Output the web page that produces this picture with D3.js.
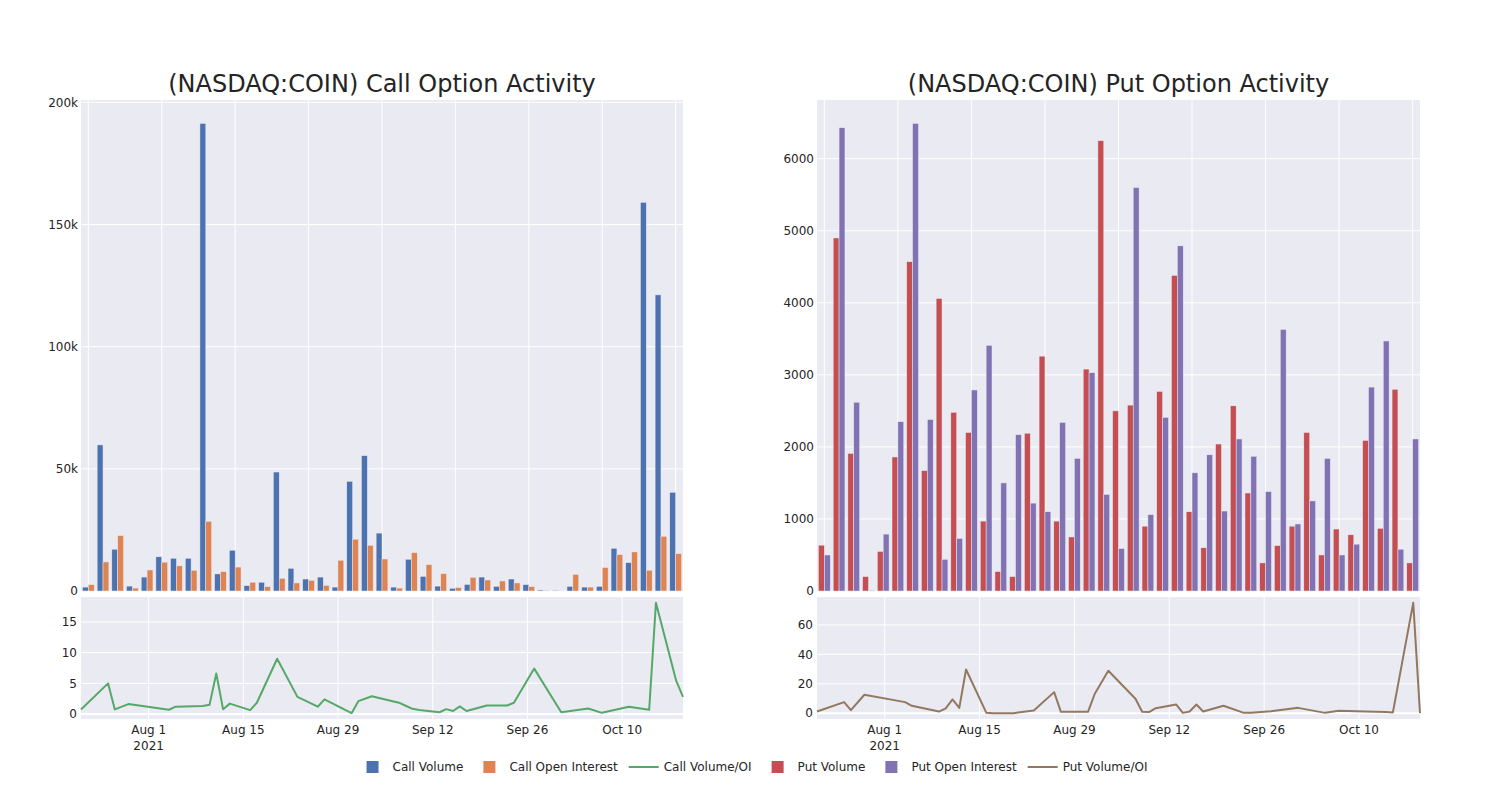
<!DOCTYPE html>
<html><head><meta charset="utf-8">
<script src="https://cdn.jsdelivr.net/npm/d3@7"></script>
<style>
body{margin:0;background:#fff;}
text{font-family:"DejaVu Sans",verdana,arial,sans-serif;fill:rgb(36,36,36);}
</style></head>
<body><svg id="c" width="1500" height="800"></svg>
<script>
const dates = ["2021-07-22","2021-07-26","2021-07-27","2021-07-29","2021-08-04","2021-08-05","2021-08-09","2021-08-10","2021-08-11","2021-08-12","2021-08-13","2021-08-16","2021-08-17","2021-08-20","2021-08-23","2021-08-26","2021-08-27","2021-08-31","2021-09-01","2021-09-03","2021-09-07","2021-09-08","2021-09-09","2021-09-10","2021-09-13","2021-09-14","2021-09-15","2021-09-16","2021-09-17","2021-09-20","2021-09-23","2021-09-24","2021-09-27","2021-10-01","2021-10-05","2021-10-07","2021-10-11","2021-10-14","2021-10-15","2021-10-18","2021-10-19"];
const callVolume = [1600,59800,17100,2000,5700,14000,13400,13400,191400,7000,16700,2200,3600,48700,9300,4900,5700,1600,44900,55400,23700,1600,13000,6000,2000,1100,2700,5700,1900,4900,2600,400,270,1900,1600,1900,17500,11600,159100,121200,40400];
const callOI = [2600,11900,22700,1200,8600,11800,10300,8500,28500,7900,9800,3600,1800,5200,3300,4400,2300,12600,21200,18700,13100,1200,15700,10800,7100,1400,5600,4500,4100,3300,1800,270,40,6800,1600,9600,14900,16000,8500,22400,15300];
const callRatio = [0.76,5.0,0.76,1.63,0.7,1.2,1.3,1.5,6.6,0.8,1.7,0.65,1.85,9.0,2.8,1.2,2.4,0.15,2.1,2.9,1.85,1.35,0.85,0.65,0.3,0.8,0.5,1.25,0.5,1.4,1.4,1.85,7.4,0.3,0.9,0.2,1.2,0.7,18.1,5.4,2.8];
const putVolume = [636,4900,1910,200,550,1860,4570,1670,4060,2480,2200,970,270,200,2190,3260,970,750,3080,6250,2500,2580,900,2770,4380,1100,600,2040,2570,1360,390,630,900,2200,500,860,780,2090,870,2800,390];
const putOI = [500,6430,2620,10,790,2350,6490,2380,440,730,2790,3410,1500,2170,1220,1100,2340,1840,3030,1340,590,5600,1060,2410,4790,1640,1890,1110,2110,1870,1380,3630,930,1250,1840,500,650,2830,3470,580,2110];
const putRatio = [1.1,7.5,2.0,12.5,7.5,5.0,1.1,3.2,9.3,3.6,29.7,0.2,0.0,0.0,1.8,14.3,0.9,0.9,13.2,28.8,9.8,0.9,0.7,3.4,5.9,0.2,1.1,5.9,1.1,5.0,0.2,0.2,1.3,3.6,0.2,1.6,1.1,0.7,0.5,75,0.0];
const titles = ["(NASDAQ:COIN) Call Option Activity","(NASDAQ:COIN) Put Option Activity"];
const callBarTicks = [0,50000,100000,150000,200000];
const callBarTickLabels = ["0","50k","100k","150k","200k"];
const putBarTicks = [0,1000,2000,3000,4000,5000,6000];
const putBarTickLabels = ["0","1000","2000","3000","4000","5000","6000"];
const callRatioTicks = [0,5,10,15];
const putRatioTicks = [0,20,40,60];
const dateTicks = ["2021-08-01","2021-08-15","2021-08-29","2021-09-12","2021-09-26","2021-10-10"];
const dateTickLabels = [["Aug 1","2021"],["Aug 15"],["Aug 29"],["Sep 12"],["Sep 26"],["Oct 10"]];
const legendNames = ["Call Volume","Call Open Interest","Call Volume/OI","Put Volume","Put Open Interest","Put Volume/OI"];

const C = {blue:"rgb(76,114,176)",orange:"rgb(221,132,82)",green:"rgb(85,168,104)",red:"rgb(196,78,82)",purple:"rgb(129,114,179)",brown:"rgb(147,120,96)",bg:"rgb(234,234,242)"};
const svg = d3.select("#c");
const parse = d3.utcParse("%Y-%m-%d");
const dts = dates.map(parse);

function panel(x0,x1,title,v1,v2,col1,col2,ratio,rcol,barTicks,barLabels,rTicks){
  const yb0=100, yb1=591, yl0=597, yl1=719;
  svg.append("text").attr("x",(x0+x1)/2).attr("y",92).attr("text-anchor","middle").style("font-size","24px").text(title);
  svg.append("rect").attr("x",x0).attr("y",yb0).attr("width",x1-x0).attr("height",yb1-yb0).attr("fill",C.bg);
  svg.append("rect").attr("x",x0).attr("y",yl0).attr("width",x1-x0).attr("height",yl1-yl0).attr("fill",C.bg);
  const g = svg.append("g");
  const xb = d3.scaleBand().domain(d3.range(dates.length)).range([x0,x1]).paddingInner(0.2).paddingOuter(0.1);
  const xs = d3.scaleBand().domain([0,1]).range([0,xb.bandwidth()]);
  const ymax = d3.max(v1.concat(v2))*1.05;
  const yb = d3.scaleLinear().domain([0,ymax]).range([yb1,yb0]);
  d3.range(0,dates.length,5).forEach(i=>{
    const cx = xb(i)+xb.bandwidth()/2;
    g.append("line").attr("x1",cx).attr("x2",cx).attr("y1",yb0).attr("y2",yb1).attr("stroke","#fff").attr("stroke-width",1);
  });
  barTicks.forEach((t,k)=>{
    g.append("line").attr("x1",x0).attr("x2",x1).attr("y1",yb(t)).attr("y2",yb(t)).attr("stroke","#fff").attr("stroke-width",1);
    g.append("text").attr("x",x0-3).attr("y",yb(t)).attr("dy","0.35em").attr("text-anchor","end").style("font-size","12px").text(barLabels[k]);
  });
  [[v1,col1,0],[v2,col2,1]].forEach(([vals,col,s])=>{
    g.selectAll(null).data(vals).enter().append("rect")
      .attr("x",(d,i)=>xb(i)+xs(s)).attr("width",xs.bandwidth())
      .attr("y",d=>yb(d)).attr("height",d=>yb1-yb(d))
      .attr("fill",col).attr("stroke",C.bg).attr("stroke-width",0.5);
  });
  const xl = d3.scaleUtc().domain(d3.extent(dts)).range([x0,x1]);
  const rmax = d3.max(ratio), rmin = d3.min(ratio);
  const pad = (rmax-rmin)*0.053;
  const yl = d3.scaleLinear().domain([rmin-pad,rmax+pad]).range([yl1,yl0]);
  dateTicks.forEach((t,k)=>{
    const x = xl(parse(t));
    g.append("line").attr("x1",x).attr("x2",x).attr("y1",yl0).attr("y2",yl1).attr("stroke","#fff");
    const tx = g.append("text").attr("x",x).attr("y",734).attr("text-anchor","middle").style("font-size","12px");
    dateTickLabels[k].forEach((s,j)=>tx.append("tspan").attr("x",x).attr("dy",j?16:0).text(s));
  });
  rTicks.forEach(t=>{
    g.append("line").attr("x1",x0).attr("x2",x1).attr("y1",yl(t)).attr("y2",yl(t)).attr("stroke","#fff").attr("stroke-width",t===0?2:1);
    g.append("text").attr("x",x0-4).attr("y",yl(t)).attr("dy","0.35em").attr("text-anchor","end").style("font-size","12px").text(t);
  });
  const line = d3.line().x((d,i)=>xl(dts[i])).y(d=>yl(d));
  g.append("path").datum(ratio).attr("d",line).attr("fill","none").attr("stroke",rcol).attr("stroke-width",2).attr("stroke-linejoin","round");
}
panel(81,683,titles[0],callVolume,callOI,C.blue,C.orange,callRatio,C.green,callBarTicks,callBarTickLabels,callRatioTicks);
panel(817,1420,titles[1],putVolume,putOI,C.red,C.purple,putRatio,C.brown,putBarTicks,putBarTickLabels,putRatioTicks);

const legCols = [C.blue,C.orange,C.green,C.red,C.purple,C.brown];
const legTypes = ["bar","bar","line","bar","bar","line"];
const lg = svg.append("g");
let xpos = 0;
legendNames.forEach((n,i)=>{
  const it = lg.append("g").attr("transform",`translate(${xpos},0)`);
  if(legTypes[i]==="bar") it.append("rect").attr("x",14).attr("y",-6).attr("width",12).attr("height",12).attr("fill",legCols[i]);
  else it.append("line").attr("x1",5).attr("x2",35).attr("y1",0).attr("y2",0).attr("stroke",legCols[i]).attr("stroke-width",2);
  const t = it.append("text").attr("x",40).attr("y",0).attr("dy","0.35em").style("font-size","12px").text(n);
  xpos += 40 + t.node().getComputedTextLength() + 6;
});
lg.attr("transform",`translate(${750-xpos/2+3},767)`);
</script></body></html>
